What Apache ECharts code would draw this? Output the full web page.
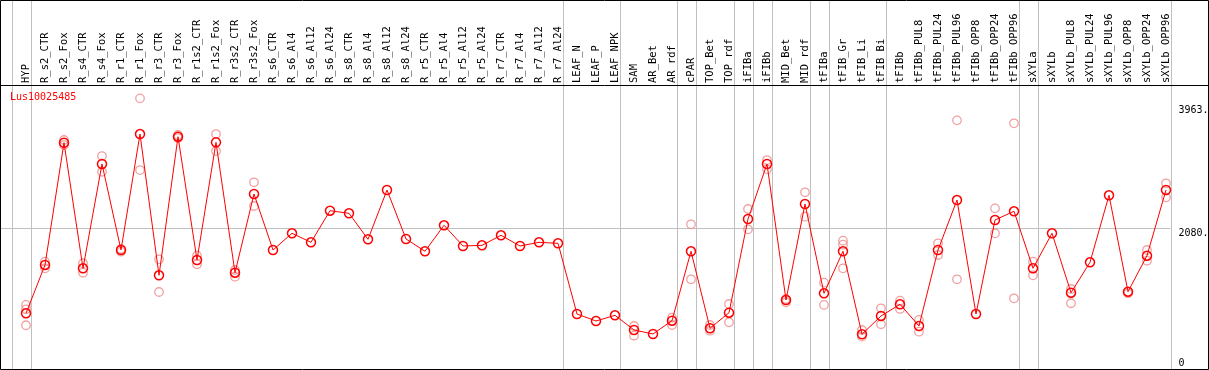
<!DOCTYPE html>
<html>
<head>
<meta charset="utf-8">
<script src="https://cdn.jsdelivr.net/npm/echarts@6/dist/echarts.min.js"></script>
<style>html,body{margin:0;padding:0;background:#fff;}#c{width:1209px;height:370px;}</style>
</head>
<body>
<div id="c"></div>
<script>
const title = "Lus10025485";
const categories = ["HYP","R_s2_CTR","R_s2_Fox","R_s4_CTR","R_s4_Fox","R_r1_CTR","R_r1_Fox","R_r3_CTR","R_r3_Fox","R_r1s2_CTR","R_r1s2_Fox","R_r3s2_CTR","R_r3s2_Fox",
"R_s6_CTR","R_s6_Al4","R_s6_Al12","R_s6_Al24","R_s8_CTR","R_s8_Al4","R_s8_Al12","R_s8_Al24","R_r5_CTR","R_r5_Al4","R_r5_Al12","R_r5_Al24","R_r7_CTR","R_r7_Al4","R_r7_Al12","R_r7_Al24",
"LEAF_N","LEAF_P","LEAF_NPK","SAM","AR_Bet","AR_rdf","cPAR","TOP_Bet","TOP_rdf","iFIBa","iFIBb","MID_Bet","MID_rdf","tFIBa","tFIB_Gr","tFIB_Li","tFIB_Bi","tFIBb",
"tFIBb_PUL8","tFIBb_PUL24","tFIBb_PUL96","tFIBb_OPP8","tFIBb_OPP24","tFIBb_OPP96","sXYLa","sXYLb","sXYLb_PUL8","sXYLb_PUL24","sXYLb_PUL96","sXYLb_OPP8","sXYLb_OPP24","sXYLb_OPP96"];
const means = [782,1520,3387,1469,3062,1749,3520,1362,3479,1596,3393,1402,2604,
1749,2004,1866,2349,2309,1912,2665,1917,1729,2126,1810,1820,1973,1810,1866,1851,
771,664,751,527,466,669,1729,553,791,2222,3062,985,2451,1087,1729,461,741,919,
588,1749,2512,771,2207,2340,1469,2004,1097,1561,2584,1112,1662,2665];
const replicates = [[909,843,599],[1570,1469],[3429,3352],[1546,1402],[3184,2944],[1764,1723],[4065,2970],[1607,1107],[3505,3459],[1662,1530],[3520,3261],[1443,1341],[2783,2421],
[],[],[],[],[],[],[],[],[],[],[],[],[],[],[],[],
[],[],[],[588,440],[],[715,603],[2141,1301],[603,516],[924,644],[2375,2065],[3123,2981],[1000,950],[2630,2257],[1249,909],[1891,1830,1469],[527,425],[858,614],[974,848],
[680,501],[1851,1672],[3729,1301],[],[2385,2004],[3684,1011],[1570,1362],[],[1153,935],[],[],[1087],[1749,1585],[2767,2553]];
const separatorsAfter = [-1,0,28,31,34,35,37,38,39,41,42,45,52,53,60];
const yTickValues = [0,2080,3963];
const yTickLabels = ["0","2080.","3963."];
const gridLineValues = [2080];

const repData = [];
replicates.forEach((arr,i)=>arr.forEach(v=>repData.push([i,v])));

const chart = echarts.init(document.getElementById('c'), null, {renderer:'canvas'});
const MONO = '"DejaVu Sans Mono", "Liberation Mono", monospace';
chart.setOption({
  animation:false,
  backgroundColor:'#fff',
  grid:{left:16.5, right:33.5, top:85, bottom:1, containLabel:false},
  xAxis:{type:'category', data:categories, position:'top', boundaryGap:true,
    axisLine:{show:false}, axisTick:{show:false}, splitLine:{show:false},
    axisLabel:{rotate:90, interval:0, margin:2, fontFamily:MONO, fontSize:10.5, color:'#000'}},
  yAxis:{type:'value', min:-69, max:4269, position:'right',
    axisLine:{show:false}, axisTick:{show:false}, splitLine:{show:false}, axisLabel:{show:false}},
  series:[
    {type:'scatter', data:repData, symbol:'circle', symbolSize:8.5,
     itemStyle:{color:'rgba(0,0,0,0)', borderColor:'#ec8a8a', borderWidth:1.3}, z:2, silent:true},
    {type:'line', data:means, symbol:'circle', symbolSize:9, showAllSymbol:true,
     lineStyle:{color:'#ff0000', width:1}, itemStyle:{color:'rgba(0,0,0,0)', borderColor:'#ff0000', borderWidth:1.5}, z:3, silent:true}
  ]
});

const p0 = chart.convertToPixel({seriesIndex:1},[0,0]);
const p1 = chart.convertToPixel({seriesIndex:1},[1,0]);
const step = p1[0]-p0[0];
const gridBottom = 369;
const rightX = p0[0] + (60 + 0.237)*step;
const graphics = [];
separatorsAfter.forEach(i=>{
  const x = Math.round(p0[0] + (i + 0.237)*step) + 0.5;
  graphics.push({type:'line', shape:{x1:x,y1:0,x2:x,y2:gridBottom}, style:{stroke:'#c0c0c0', lineWidth:1}, z:1});
});
gridLineValues.forEach(v=>{
  const y = Math.round(chart.convertToPixel({seriesIndex:1},[0,v])[1]) + 0.5;
  graphics.push({type:'line', shape:{x1:1,y1:y,x2:rightX,y2:y}, style:{stroke:'#c0c0c0', lineWidth:1}, z:1});
});
yTickValues.forEach((v,k)=>{
  let y = chart.convertToPixel({seriesIndex:1},[0,v])[1];
  y = Math.min(y, gridBottom - 11);
  graphics.push({type:'text', x:rightX + 8, y:y, style:{text:yTickLabels[k], font:'10px '+MONO, fill:'#000', verticalAlign:'top'}, z:5});
});
graphics.push({type:'line', shape:{x1:0,y1:85.5,x2:1209,y2:85.5}, style:{stroke:'#000', lineWidth:1}, z:5});
graphics.push({type:'rect', shape:{x:0.5,y:0.5,width:1208,height:369}, style:{fill:null, stroke:'#000', lineWidth:1}, z:5});
graphics.push({type:'text', x:10, y:92, style:{text:title, font:'10px '+MONO, fill:'#ff0000', verticalAlign:'top'}, z:5});
chart.setOption({graphic:graphics});
</script>
</body>
</html>
